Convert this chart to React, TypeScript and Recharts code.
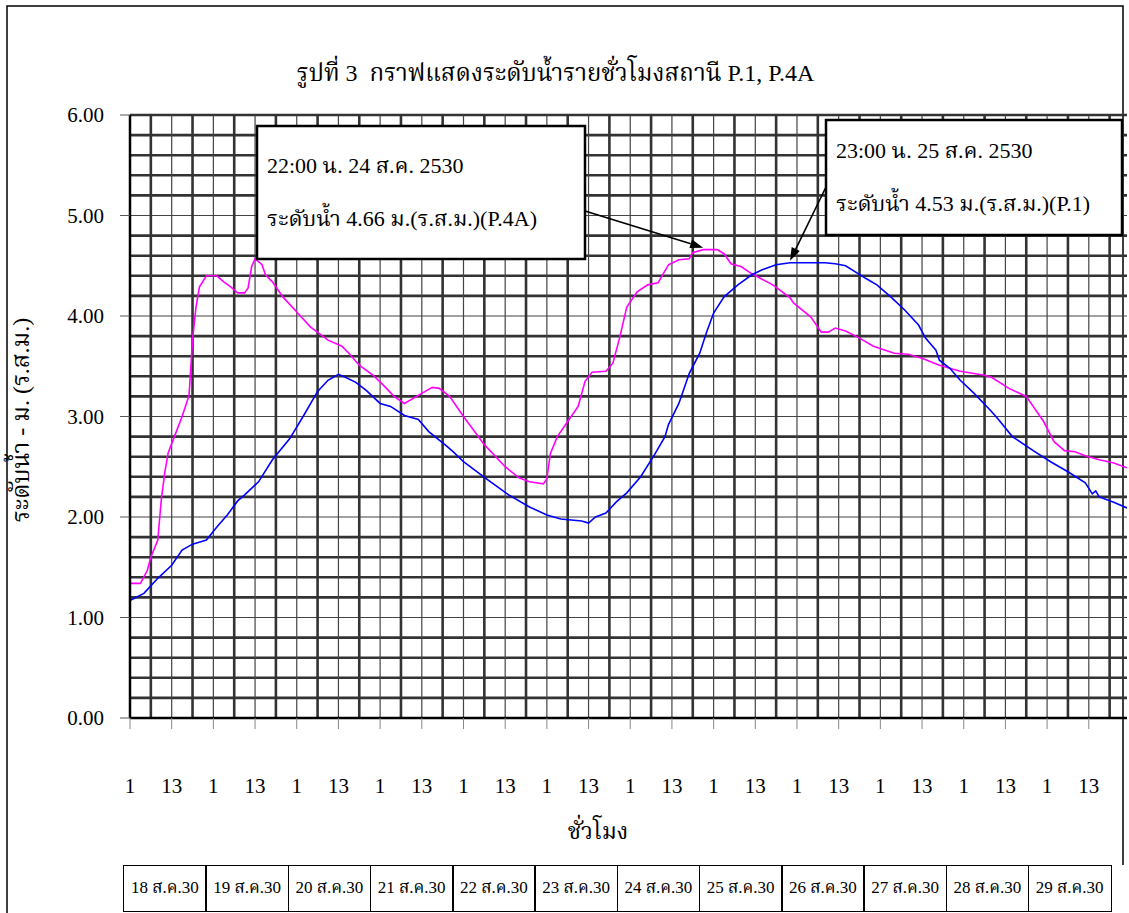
import { LineChart, Line, XAxis, YAxis, ReferenceLine, ReferenceDot } from "recharts";

// วันที่ (ตารางใต้แกน x)
const dayLabels = [
  "18 ส.ค.30", "19 ส.ค.30", "20 ส.ค.30", "21 ส.ค.30", "22 ส.ค.30", "23 ส.ค.30",
  "24 ส.ค.30", "25 ส.ค.30", "26 ส.ค.30", "27 ส.ค.30", "28 ส.ค.30", "29 ส.ค.30",
];

// ชั่วโมงนับจาก 01:00 น. 18 ส.ค. (0 = 1:00)
const p4aHours = [
  0, 3, 5, 6, 8, 9, 10, 11, 13, 15, 17, 18, 19, 20, 22, 25, 27, 29, 31, 33, 34, 35, 36, 38, 39,
  41, 44, 48, 52, 57, 61, 63, 66, 70, 73, 76, 79, 83, 87, 89, 92, 96, 102, 108, 112, 115, 119,
  120, 121, 123, 126, 129, 131, 133, 137, 139, 141, 143, 146, 149, 152, 153, 155, 158, 161,
  162, 165, 169, 171, 173, 176, 179, 185, 187, 190, 191, 196, 199, 201, 203, 206, 210, 214,
  220, 224, 228, 233, 239, 246, 248, 253, 258, 263, 266, 269, 272, 275, 279, 283, 287,
];
const p4aLevels = [
  1.34, 1.34, 1.47, 1.6, 1.77, 2.17, 2.44, 2.64, 2.82, 3.0, 3.21, 3.76, 4.09, 4.29, 4.4, 4.4,
  4.34, 4.29, 4.23, 4.23, 4.28, 4.49, 4.57, 4.51, 4.41, 4.34, 4.19, 4.04, 3.89, 3.76, 3.7,
  3.63, 3.51, 3.41, 3.31, 3.2, 3.13, 3.21, 3.29, 3.28, 3.2, 3.0, 2.72, 2.5, 2.39, 2.35, 2.33,
  2.38, 2.63, 2.8, 2.95, 3.1, 3.35, 3.44, 3.45, 3.53, 3.79, 4.09, 4.24, 4.31, 4.33, 4.39,
  4.51, 4.56, 4.57, 4.63, 4.66, 4.66, 4.62, 4.52, 4.49, 4.42, 4.31, 4.26, 4.18, 4.13, 3.99,
  3.84, 3.84, 3.88, 3.85, 3.78, 3.7, 3.63, 3.62, 3.58, 3.51, 3.45, 3.41, 3.39, 3.28, 3.2,
  2.95, 2.75, 2.66, 2.65, 2.61, 2.57, 2.54, 2.49,
];

const p1Hours = [
  0, 4, 8, 12, 15, 18, 22, 25, 28, 31, 33, 37, 41, 46, 50, 54, 57, 60, 62, 65, 68, 72, 75, 79,
  83, 86, 91, 93, 96, 103, 109, 115, 120, 124, 130, 132, 134, 137, 140, 143, 147, 151, 154,
  155, 158, 161, 164, 166, 168, 171, 175, 179, 182, 186, 190, 200, 203, 206, 212, 215, 219,
  223, 227, 229, 232, 233, 236, 239, 243, 248, 250, 254, 260, 265, 270, 275, 277, 278, 279,
  283, 287,
];
const p1Levels = [
  1.17, 1.24, 1.39, 1.52, 1.67, 1.73, 1.77, 1.9, 2.02, 2.16, 2.22, 2.35, 2.57, 2.78, 3.01,
  3.25, 3.36, 3.42, 3.39, 3.34, 3.26, 3.13, 3.1, 3.01, 2.97, 2.85, 2.71, 2.65, 2.55, 2.37,
  2.22, 2.1, 2.02, 1.98, 1.96, 1.94, 2.0, 2.04, 2.15, 2.24, 2.4, 2.62, 2.8, 2.92, 3.13, 3.43,
  3.63, 3.84, 4.03, 4.19, 4.31, 4.41, 4.46, 4.51, 4.53, 4.53, 4.52, 4.5, 4.37, 4.31, 4.19,
  4.06, 3.91, 3.78, 3.66, 3.56, 3.48, 3.36, 3.23, 3.05, 2.97, 2.8, 2.66, 2.55, 2.45, 2.34,
  2.23, 2.26, 2.2, 2.15, 2.09,
];

const levelTicks = [0, 1, 2, 3, 4, 5, 6];

const lastHour = dayLabels.length * 24 - 1;
const hourTicks = dayLabels.flatMap((_, d) => [d * 24, d * 24 + 12]);
const gridHours = Array.from({ length: Math.floor(lastHour / 6) }, (_, i) => (i + 1) * 6);
const gridLevels = Array.from({ length: 30 }, (_, i) => Math.round((i + 1) * 2) / 10);

const p4aData = p4aHours.map((h, i) => ({ h, v: p4aLevels[i] }));
const p1Data = p1Hours.map((h, i) => ({ h, v: p1Levels[i] }));

const p4aPeak = { h: 165, v: 4.66 };
const p1Peak = { h: 190, v: 4.53 };

const SERIF =
  '"Liberation Serif", "Times New Roman", "Noto Serif Thai", "Norasi", "Kinnari", "Laksaman", serif';

const HourTick = ({ x, y, payload }: any) => (
  <text x={x} y={y + 64} textAnchor="middle" fontSize={21} fontFamily={SERIF} fill="#000">
    {(payload.value % 24) + 1}
  </text>
);

const Arrow = ({ x1, y1, x2, y2 }: { x1: number; y1: number; x2: number; y2: number }) => {
  const a = Math.atan2(y2 - y1, x2 - x1);
  const len = 13;
  const w = 4.5;
  const bx = x2 - len * Math.cos(a);
  const by = y2 - len * Math.sin(a);
  const px = -Math.sin(a) * w;
  const py = Math.cos(a) * w;
  return (
    <g>
      <line x1={x1} y1={y1} x2={bx} y2={by} stroke="#000" strokeWidth={1.6} />
      <polygon points={`${x2},${y2} ${bx + px},${by + py} ${bx - px},${by - py}`} fill="#000" />
    </g>
  );
};

const callout = (box: { x: number; y: number; w: number; h: number }, from: { x: number; y: number }, lines: string[], lineY: number[]) =>
  (props: any) => (
    <g>
      <rect x={box.x} y={box.y} width={box.w} height={box.h} fill="#fff" stroke="#000" strokeWidth={2.5} />
      {lines.map((t, i) => (
        <text key={i} x={box.x + 10} y={lineY[i]} fontSize={22} fontFamily={SERIF} fill="#000" dominantBaseline="middle">
          {t}
        </text>
      ))}
      <Arrow x1={from.x} y1={from.y} x2={props.cx} y2={props.cy - 2} />
    </g>
  );

export default function App() {
  return (
    <div style={{ position: "absolute", left: 0, top: 0, width: 1129, height: 913, background: "#fff", fontFamily: SERIF }}>
      <svg width={1129} height={913} style={{ position: "absolute", left: 0, top: 0 }}>
        <path d="M7,913 L7,6 L1123,6 L1123,865" fill="none" stroke="#000" strokeWidth={1.5} />
      </svg>
      <div style={{ position: "absolute", left: 0, top: 0 }}>
        <LineChart width={1129} height={913} margin={{ top: 115, right: 2, bottom: 135, left: 0 }}>
          {gridLevels.map((v) => (
            <ReferenceLine
              key={"y" + v}
              y={v}
              stroke={Number.isInteger(v) && v < 6 ? "#444" : "#333"}
              strokeWidth={Number.isInteger(v) && v < 6 ? 1.2 : 2.6}
            />
          ))}
          {gridHours.map((h) => (
            <ReferenceLine
              key={"x" + h}
              x={h}
              stroke={h % 12 === 0 ? "#444" : "#333"}
              strokeWidth={h % 12 === 0 ? 1.2 : 2.6}
            />
          ))}
          <XAxis
            type="number"
            dataKey="h"
            domain={[0, lastHour]}
            ticks={hourTicks}
            interval={0}
            height={60}
            tickSize={11}
            tickMargin={0}
            tick={<HourTick />}
            axisLine={{ stroke: "#000", strokeWidth: 2.5 }}
            tickLine={{ stroke: "#888", strokeWidth: 1 }}
            allowDataOverflow
          />
          <YAxis
            type="number"
            domain={[0, 6]}
            ticks={levelTicks}
            width={130}
            tickSize={10}
            tickMargin={16}
            tickFormatter={(v: number) => v.toFixed(2)}
            tick={{ fontSize: 21, fill: "#000", fontFamily: SERIF }}
            axisLine={{ stroke: "#000", strokeWidth: 2.5 }}
            tickLine={{ stroke: "#555", strokeWidth: 1 }}
          />
          <Line data={p4aData} dataKey="v" type="linear" stroke="#ff00ff" strokeWidth={1.6} dot={false} activeDot={false} isAnimationActive={false} />
          <Line data={p1Data} dataKey="v" type="linear" stroke="#0000ff" strokeWidth={1.6} dot={false} activeDot={false} isAnimationActive={false} />
          <ReferenceDot
            x={p4aPeak.h}
            y={p4aPeak.v}
            ifOverflow="visible"
            shape={callout(
              { x: 257, y: 126, w: 328, h: 133 },
              { x: 585, y: 211 },
              ["22:00 น. 24 ส.ค. 2530", "ระดับน้ำ 4.66 ม.(ร.ส.ม.)(P.4A)"],
              [168, 221]
            )}
          />
          <ReferenceDot
            x={p1Peak.h}
            y={p1Peak.v}
            ifOverflow="visible"
            shape={callout(
              { x: 826, y: 120, w: 296, h: 115 },
              { x: 826, y: 187 },
              ["23:00 น. 25 ส.ค. 2530", "ระดับน้ำ 4.53 ม.(ร.ส.ม.)(P.1)"],
              [153, 206]
            )}
          />
        </LineChart>
      </div>

      <div style={{ position: "absolute", left: 0, width: 1129, top: 57, textAlign: "center", fontSize: 24, lineHeight: "32px" }}>
        <span style={{ position: "relative", left: -9 }}>รูปที่ 3&nbsp;&nbsp;กราฟแสดงระดับน้ำรายชั่วโมงสถานี P.1, P.4A</span>
      </div>

      <div
        style={{
          position: "absolute",
          left: 22,
          top: 420,
          transform: "translate(-50%, -50%) rotate(-90deg)",
          whiteSpace: "nowrap",
          fontSize: 24,
        }}
      >
        ระดับน้ำ - ม. (ร.ส.ม.)
      </div>

      <div style={{ position: "absolute", left: 598, top: 833, transform: "translate(-50%, -50%)", fontSize: 23, whiteSpace: "nowrap" }}>
        ชั่วโมง
      </div>

      <div style={{ position: "absolute", left: 123, top: 865, display: "flex" }}>
        {dayLabels.map((d, i) => (
          <div
            key={d}
            style={{
              width: 83.75,
              height: 47,
              boxSizing: "border-box",
              border: "1.5px solid #000",
              marginLeft: i === 0 ? 0 : -1.5,
              display: "flex",
              alignItems: "center",
              justifyContent: "center",
              fontSize: 17,
              whiteSpace: "nowrap",
            }}
          >
            {d}
          </div>
        ))}
      </div>
    </div>
  );
}
